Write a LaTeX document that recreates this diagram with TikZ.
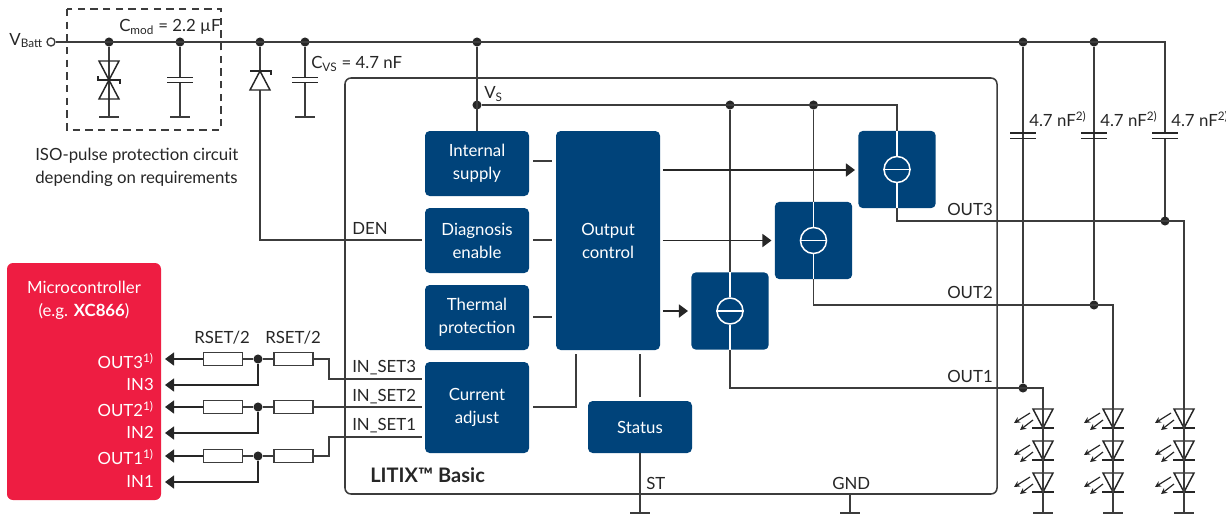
\documentclass[tikz,border=0pt]{standalone}
\usepackage{fontspec}
\setmainfont{Lato}
\usepackage{xcolor}
\usetikzlibrary{arrows.meta}
\definecolor{chipblue}{RGB}{0,67,122}
\definecolor{mcured}{RGB}{238,29,66}
\definecolor{wiregray}{RGB}{60,60,60}
\tikzset{
    wire/.style={draw=wiregray, line width=1.15pt},
    sigtip/.style={-{Triangle[length=6.8pt,width=9.8pt]}},
    jdot/.style={circle, fill=black!85, inner sep=0pt, minimum size=6.8pt},
    gndbar/.style={fill=wiregray, inner sep=0pt, minimum width=15pt, minimum height=1.3pt},
    capplate/.style={fill=black!85, inner sep=0pt, minimum width=19.5pt, minimum height=1.3pt},
    resbox/.style={draw=wiregray, fill=white, line width=1.15pt, inner sep=0pt, minimum width=29pt, minimum height=9.5pt},
    chipbox/.style={fill=chipblue, text=white, rounded corners=3.5pt, align=center, inner sep=0pt, minimum width=78pt, font=\fontsize{12.6}{17.25}\selectfont},
    srcbox/.style={fill=chipblue, rounded corners=3.5pt, inner sep=0pt, minimum size=58pt},
    srcring/.style={draw=white, line width=1.15pt, circle, inner sep=0pt, minimum size=19.5pt},
    lbl/.style={inner sep=0pt, text=black!85, anchor=base west, font=\fontsize{12.6}{17.25}\selectfont},
    lblr/.style={lbl, anchor=base east, text=white},
    ledchip/.pic={
        \draw[draw=black!85, line width=1.1pt, line join=miter] (-10,0) -- (10,0) -- (0,19) -- cycle;
        \draw[draw=black!85, line width=1.1pt] (-11,19) -- (11,19);
        \draw[draw=black!85, line width=.9pt, -{Stealth[length=4.5pt,width=4.5pt]}] (-13,4) -- (-29,14);
        \draw[draw=black!85, line width=.9pt, -{Stealth[length=4.5pt,width=4.5pt]}] (-10,11) -- (-23,21);
    },
}
\begin{document}
\begin{tikzpicture}[x=0.75pt,y=-0.75pt]
    \useasboundingbox (0,0) rectangle (1226,515);
    \draw[wire, rounded corners=4.5pt] (345,78) rectangle (997,494);
    \node[fill=mcured, rounded corners=4.5pt, inner sep=0pt, minimum width=115.5pt, minimum height=177.75pt] (mcu) at (84,381.5) {};
    \draw[wiregray, line width=.9pt, dashed, dash pattern=on 5.5pt off 4pt] (67,9) rectangle (221,130);

    % supply rail
    \node[circle, draw=wiregray, fill=white, line width=1pt, inner sep=0pt, minimum size=6pt] (vbatt) at (51,42) {};
    \foreach \jname/\jx in {jtvs/109, jcmod/180, jzen/260, jcvs/305, jvs/477, jcb/1023, jcc/1094}
        \node[jdot] (\jname) at (\jx,42) {};
    \coordinate (railend) at (1165,42);
    \coordinate (jcd) at (1165,221);
    \draw[wire] (vbatt) -- (railend) -- (jcd);

    % input protection
    \foreach \gname/\gx in {gtvs/109, gcmod/180, gcvs/305}
        \node[gndbar] (\gname) at (\gx,117) {};
    \draw[wire] (jtvs) -- (gtvs);
    \draw[wire] (jcmod) -- (gcmod);
    \draw[wire] (jcvs) -- (gcvs);
    \draw[black!85, line width=1.1pt, line join=miter] (99,61) -- (119,61) -- (109,80) -- cycle;
    \draw[black!85, line width=1.1pt, line join=miter] (109,80) -- (119,99) -- (99,99) -- cycle;
    \draw[black!85, line width=1.1pt] (98,76) -- (98,80) -- (120,80) -- (120,84);
    \foreach \pname/\px in {cmod/180, cvs/305, cb/1023, cc/1094, cd/1165} {
        \ifnum\px>1000
            \node[fill=white, inner sep=0pt, minimum width=19.5pt, minimum height=4pt] (\pname mid) at (\px,136) {};
        \else
            \node[fill=white, inner sep=0pt, minimum width=19.5pt, minimum height=4pt] (\pname mid) at (\px,80) {};
        \fi
    }
    \node[capplate] at (180,77.5) (cmodtop) {};
    \node[capplate] at (180,82.5) (cmodbot) {};
    \node[capplate] at (305,77.5) (cvstop) {};
    \node[capplate] at (305,82.5) (cvsbot) {};

    % chip blocks
    \node[chipbox, minimum height=48.75pt] (intsup) at (477,163.5) {Internal\\supply};
    \node[chipbox, minimum height=48.75pt] (diagen) at (477,240.5) {Diagnosis\\enable};
    \node[chipbox, minimum height=48.75pt] (thermal) at (477,317.5) {Thermal\\protection};
    \node[chipbox, minimum height=68.25pt] (curadj) at (477,407.5) {Current\\adjust};
    \node[chipbox, minimum height=164.25pt] (outctl) at (608,240.5) {Output\\control};
    \node[chipbox, minimum height=39pt] (status) at (640,427) {Status};
    \node[srcbox] (srcc) at (897,169.5) {};
    \node[srcbox] (srcb) at (813.5,240.5) {};
    \node[srcbox] (srca) at (730,311) {};

    % zener and DEN line
    \coordinate (denbend) at (260,240);
    \coordinate (denend) at (422,240);
    \draw[wire] (jzen) -- (denbend) -- (denend);
    \draw[black!85, fill=white, line width=1.1pt, line join=miter] (260,71) -- (270,90) -- (250,90) -- cycle;
    \draw[black!85, line width=1.1pt] (250,71) -- (271,71) -- (271,75);

    % VS rail
    \node[jdot] (jint) at (477,105) {};
    \node[jdot] (jsa) at (730,105) {};
    \node[jdot] (jsb) at (813.5,105) {};
    \coordinate (vsbend) at (897,105);
    \draw[wire] (jvs) -- (intsup.north);
    \draw[wire] (jint) -- (vsbend) -- (srcc.north);
    \draw[wire] (jsa) -- (srca.north);
    \draw[wire] (jsb) -- (srcb.north);

    % control lines
    \foreach \blk/\yy in {intsup/161, diagen/240, thermal/317}
        \draw[wire, shorten <=3pt, shorten >=3pt] (\blk.east |- 0,\yy) -- (outctl.west |- 0,\yy);
    \coordinate (adjbend) at (576,407);
    \draw[wire, shorten <=3pt] (curadj.east |- adjbend) -- (adjbend) -- (576,354);
    \draw[wire, shorten >=3pt, shorten <=3pt] (status.north) -- (outctl.south -| status.north);
    \foreach \src/\yy in {srcc/170, srcb/240.5, srca/311}
        \draw[wire, black!85, sigtip, shorten <=2pt, shorten >=2.3pt] (outctl.east |- 0,\yy) -- (\src.west |- 0,\yy);

    % current sources
    \foreach \src in {srca, srcb, srcc} {
        \node[srcring] (\src ring) at (\src.center) {};
        \draw[white, line width=1pt] (\src.north) -- (\src ring.north);
        \draw[white, line width=1pt] (\src ring.south) -- (\src.south);
        \draw[white, line width=1pt] (\src ring.west) -- (\src ring.east);
    }

    % LED strings
    \node[jdot] (jouta) at (1023,388) {};
    \node[jdot] (joutb) at (1094,305) {};
    \node[jdot] (joutc) at (1165,221) {};
    \foreach \ledx in {1043,1113,1184} {
        \node[gndbar] (gled\ledx) at (\ledx,513) {};
        \foreach \ledy in {409,441,473}
            \pic at (\ledx,\ledy) {ledchip};
    }
    \coordinate (outabend) at (730,388);
    \coordinate (outbbend) at (813.5,305);
    \coordinate (outcbend) at (897,221);
    \coordinate (ledabend) at (1043,388);
    \coordinate (ledbbend) at (1113,305);
    \coordinate (ledcbend) at (1184,221);
    \draw[wire] (srca.south) -- (outabend) -- (ledabend) -- (gled1043);
    \draw[wire] (srcb.south) -- (outbbend) -- (ledbbend) -- (gled1113);
    \draw[wire] (srcc.south) -- (outcbend) -- (ledcbend) -- (gled1184);
    \draw[wire] (jcb) -- (jouta);
    \draw[wire] (jcc) -- (joutb);
    \draw[wire] (jcd) -- (joutc);
    \foreach \px/\pname in {1023/cb, 1094/cc, 1165/cd} {
        \node[capplate] (\pname top) at (\px,133) {};
        \node[capplate] (\pname bot) at (\px,138.5) {};
    }

    % status and ground pins
    \node[gndbar] (gst) at (640,513) {};
    \node[gndbar] (ggnd) at (850,513) {};
    \coordinate (gndpin) at (850,494);
    \draw[wire] (status.south) -- (gst);
    \draw[wire] (gndpin) -- (ggnd);

    % microcontroller lines
    \foreach \rn/\yo/\yi in {3/359/385, 2/407/433, 1/456/482} {
        \node[resbox] (rla\rn) at (223,\yo) {};
        \node[resbox] (rlb\rn) at (293.5,\yo) {};
        \node[jdot] (jr\rn) at (258,\yo) {};
        \coordinate (pout\rn) at (165,\yo);
        \coordinate (pin\rn) at (165,\yi);
        \coordinate (ibend\rn) at (258,\yi);
        \draw[wire] (rla\rn) -- (jr\rn) -- (rlb\rn);
        \draw[wire, black!85, sigtip] (rla\rn) -- (pout\rn);
        \draw[wire, black!85, sigtip] (jr\rn) -- (ibend\rn) -- (pin\rn);
    }
    \coordinate (setc) at (422,379);
    \coordinate (setb) at (422,407);
    \coordinate (seta) at (422,437);
    \coordinate (bendc) at (329,379);
    \coordinate (benda) at (329,437);
    \draw[wire] (rlb3) -| (bendc) -- (setc);
    \draw[wire] (rlb2) -- (setb);
    \draw[wire] (rlb1) -| (benda) -- (seta);

    % labels
    \node[lbl, anchor=base east] (lvbatt) at (43,45) {V\textsubscript{Batt}};
    \node[lbl] (lcmod) at (119,31) {C\textsubscript{mod} = 2.2 µF};
    \node[lbl] (lcvs) at (311,68) {C\textsubscript{VS} = 4.7 nF};
    \node[lbl] (liso) at (35,160) {ISO-pulse protection circuit};
    \node[lbl] (ldep) at (35,183) {depending on requirements};
    \node[lbl] (lvs) at (484,98) {V\textsubscript{S}};
    \node[lbl] (lden) at (352,234) {DEN};
    \node[lbl] (lsetc) at (352,372) {IN\_SET3};
    \node[lbl] (lsetb) at (352,401) {IN\_SET2};
    \node[lbl] (lseta) at (352,430) {IN\_SET1};
    \node[lbl, font=\fontsize{15}{18}\selectfont\bfseries] (llitix) at (370,482) {LITIX™ Basic};
    \node[lbl] (lst) at (646,489) {ST};
    \node[lbl] (lgnd) at (832,489) {GND};
    \node[lbl] (loutc) at (947,215) {OUT3};
    \node[lbl] (loutb) at (947,298) {OUT2};
    \node[lbl] (louta) at (947,382) {OUT1};
    \node[lbl] (lcapb) at (1029,126) {4.7 nF\textsuperscript{2)}};
    \node[lbl] (lcapc) at (1100,126) {4.7 nF\textsuperscript{2)}};
    \node[lbl] (lcapd) at (1171,126) {4.7 nF\textsuperscript{2)}};
    \node[lbl] (lrsa) at (194,343) {RSET/2};
    \node[lbl] (lrsb) at (265,343) {RSET/2};
    \node[lbl, anchor=base, text=white] (lmcua) at (84,293) {Microcontroller};
    \node[lbl, anchor=base, text=white] (lmcub) at (84,316) {(e.g. \textbf{XC866})};
    \node[lblr] (lpoc) at (154,368) {OUT3\textsuperscript{1)}};
    \node[lblr] (lpic) at (154,390) {IN3};
    \node[lblr] (lpob) at (154,416) {OUT2\textsuperscript{1)}};
    \node[lblr] (lpib) at (154,438) {IN2};
    \node[lblr] (lpoa) at (154,464) {OUT1\textsuperscript{1)}};
    \node[lblr] (lpia) at (154,487) {IN1};
\end{tikzpicture}
\end{document}
